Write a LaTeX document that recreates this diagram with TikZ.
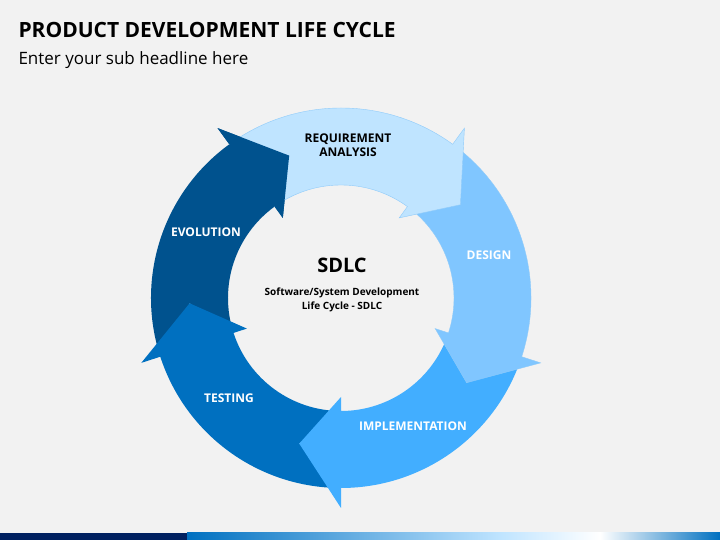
\documentclass[tikz,border=0pt]{standalone}
\usepackage{fontspec}
\setmainfont{Open Sans}
\definecolor{bgGray}{HTML}{F2F2F2}
\definecolor{reqBlue}{HTML}{BFE4FF}
\definecolor{desBlue}{HTML}{80C6FF}
\definecolor{impBlue}{HTML}{42AEFF}
\definecolor{tesBlue}{HTML}{0070C0}
\definecolor{evoBlue}{HTML}{00528E}
\definecolor{navyBar}{HTML}{002060}
\definecolor{edgeBlue}{HTML}{8FCBFA}
% curved arrow: #1 tail angle, #2 head angle
\newcommand{\cyclearrow}[2]{%
  (#1:190pt) arc[start angle=#1, end angle=#2, radius=190pt] -- (#2:210pt)
  -- ({#2-16}:151.5pt) -- (#2:99pt) -- (#2:113pt)
  arc[start angle=#2, end angle=#1, radius=113pt] -- ({#1-16}:151.5pt) -- cycle}
\tikzset{
  stage/.style={font=\bfseries\fontsize{12}{14}\selectfont, white, align=center},
}
\begin{document}
\begin{tikzpicture}[x=1pt, y=1pt]
        % Background
        \fill[bgGray] (0,0) rectangle (720,540);
        \useasboundingbox (0,0) rectangle (720,540);
        % Bottom bar
        \fill[navyBar] (0,0) rectangle (187,7);
        \shade[left color=tesBlue, right color=reqBlue] (187,0) rectangle (500,7);
        \shade[left color=reqBlue, right color=white] (500,0) rectangle (600,7);
        \shade[left color=white, right color=tesBlue] (600,0) rectangle (720,7);
        % Headline
        \node[anchor=west, font=\bfseries\fontsize{21}{24}\selectfont] (title) at (15,510) {PRODUCT DEVELOPMENT LIFE CYCLE};
        \node[anchor=west, font=\fontsize{17}{20}\selectfont] (subtitle) at (15,480) {Enter your sub headline here};
        % Cycle
        \begin{scope}[shift={(341,242)}]
          \fill[evoBlue] \cyclearrow{-162}{-234};
          \fill[tesBlue] \cyclearrow{-90}{-162};
          \fill[impBlue] \cyclearrow{-18}{-90};
          \filldraw[desBlue, draw=edgeBlue] \cyclearrow{54}{-18};
          \filldraw[reqBlue, draw=edgeBlue] \cyclearrow{126}{54};
          % repaint evolution head over requirement tail
          \fill[evoBlue] (126:210pt) -- (110:151.5pt) -- (126:99pt) -- cycle;
        \end{scope}
        % Labels
        \node[stage, black] (req) at (348,395) {REQUIREMENT\\ANALYSIS};
        \node[stage] (des) at (489,285) {DESIGN};
        \node[stage] (imp) at (413,114) {IMPLEMENTATION};
        \node[stage] (tes) at (229,142) {TESTING};
        \node[stage] (evo) at (206,308) {EVOLUTION};
        \node[font=\bfseries\fontsize{20}{24}\selectfont] (sdlc) at (342,275) {SDLC};
        \node[font=\bfseries\fontsize{10}{14}\selectfont, align=center] (full) at (342,240) {Software/System Development\\Life Cycle - SDLC};
\end{tikzpicture}
\end{document}
